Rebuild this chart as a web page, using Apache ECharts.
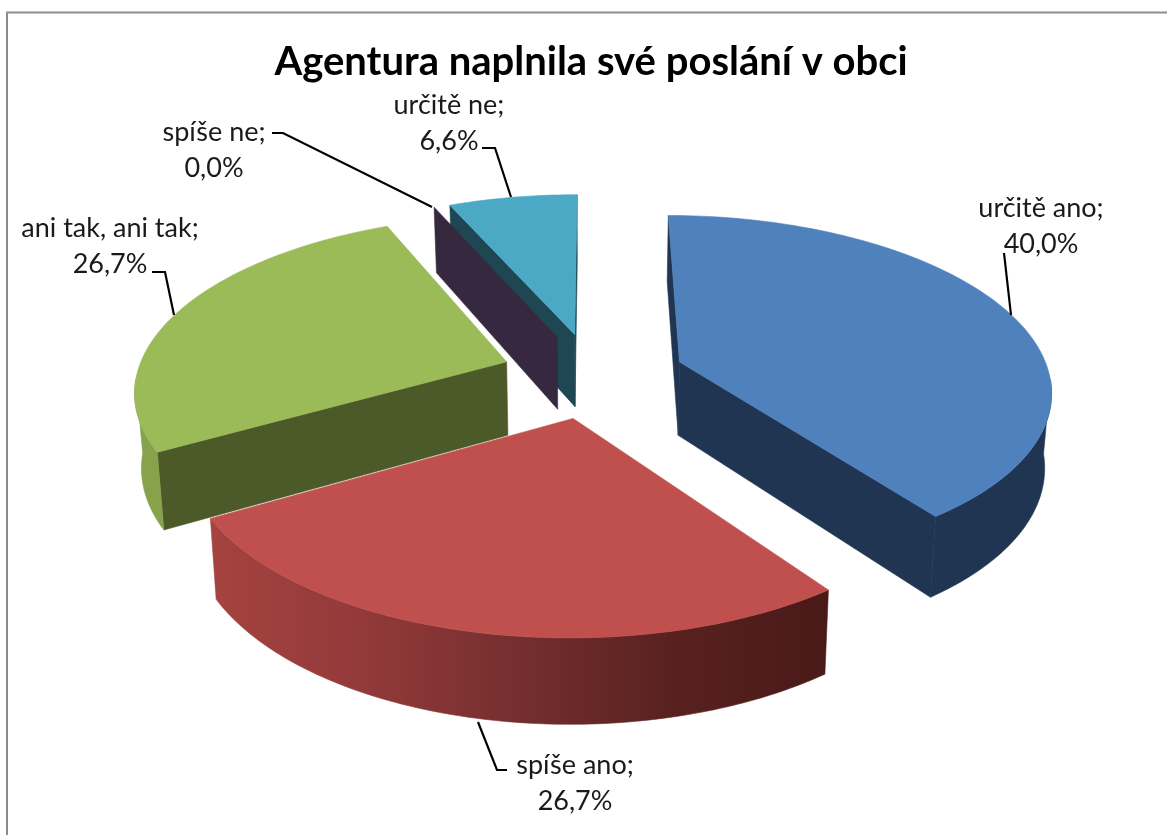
<!DOCTYPE html>
<html>
<head>
<meta charset="utf-8">
<title>Agentura naplnila své poslání v obci</title>
<style>
  html, body { margin: 0; padding: 0; background: #fff; }
  #chart { width: 1167px; height: 835px; }
</style>
<script src="https://cdn.jsdelivr.net/npm/echarts@6/dist/echarts.min.js"></script>
</head>
<body>
<div id="chart"></div>
<script>
const chartTitle = 'Agentura naplnila své poslání v obci'
const categories = ['určitě ano', 'spíše ano', 'ani tak, ani tak', 'spíše ne', 'určitě ne']
const shares = [40.0, 26.7, 26.7, 0.0, 6.6]

// colours per slice: top face, side walls, outer wall
const topColors = ['#4f81bd', '#c0504d', '#9bbb59', '#8064a2', '#4ba9c5']
const wallColors = ['#1f3552', '#4a1a18', '#4c5a29', '#35283f', '#1e4753']
const rimColors = ['#1f3552', null, '#86a34c', '#35283f', '#1e4753']

// painter's order, back to front
const drawOrder = [4, 3, 2, 0, 1]

// projection of the tilted pie
const cx = 593
const cy = 375
const radius = 370
const tilt = 0.465
const perspective = 0.15
const explode = 92
const depth = 74
const bottomShrink = 0.985

const fontFamily = 'Lato, "Open Sans", sans-serif'

function project(u, v) {
  const s = 1 / (1 - perspective * v / radius)
  return { x: cx + u * s, y: cy + tilt * v * s, s: s }
}

function lower(p) {
  return [cx + (p.x - cx) * bottomShrink, p.y + depth * Math.pow(p.s, 0.75)]
}

function renderSlice(i, api) {
  const before = shares.slice(0, i).reduce((a, b) => a + b, 0)
  const start = before / 100 * Math.PI * 2
  const end = (before + api.value(0)) / 100 * Math.PI * 2
  const mid = (start + end) / 2
  const ox = Math.sin(mid) * explode
  const oy = -Math.cos(mid) * explode

  const steps = Math.max(1, Math.ceil((end - start) / 0.02))
  const pts = []
  const frontPts = []
  for (let k = 0; k <= steps; k++) {
    const a = start + (end - start) * k / steps
    const p = project(ox + Math.sin(a) * radius, oy - Math.cos(a) * radius)
    pts.push(p)
    // the rim starts where the arc turns back, which perspective pushes a bit forward
    if (-Math.cos(a) >= 0.1) frontPts.push(p)
  }
  const apex = project(ox, oy)
  const first = pts[0]
  const last = pts[pts.length - 1]

  const xy = p => [p.x, p.y]
  const solid = (points, color) => ({
    type: 'polygon',
    shape: { points: points },
    style: { fill: color, stroke: color, lineWidth: 0.6 }
  })
  const wall = (a, b) => solid([xy(a), xy(b), lower(b), lower(a)], wallColors[i])

  const rimFill = rimColors[i] || new echarts.graphic.LinearGradient(215, 0, 825, 0, [
    { offset: 0, color: '#a4433f' },
    { offset: 0.25, color: '#92393a' },
    { offset: 0.5, color: '#752e2e' },
    { offset: 0.75, color: '#582120' },
    { offset: 1, color: '#4a1a18' }
  ], true)

  // a cut face shows only when its outside looks down the screen
  const children = []
  if (first.x < apex.x) children.push(wall(apex, first))
  if (last.x > apex.x) children.push(wall(apex, last))
  if (frontPts.length > 1) {
    children.push(solid(frontPts.map(xy).concat(frontPts.slice().reverse().map(lower)), rimFill))
  }
  if (end > start) {
    children.push(solid([xy(apex)].concat(pts.map(xy)), topColors[i]))
  }
  return { type: 'group', children: children }
}

function labelText(i) {
  return categories[i] + ';\n' + shares[i].toFixed(1).replace('.', ',') + '%'
}

// label centres and leader lines, same order as categories
const labelCentres = [[1041, 226], [575, 783], [110, 246], [214, 150], [449, 123]]
const leaders = [
  [[1004, 253], [1011, 315]],
  [[478, 722], [497, 770], [507, 770]],
  [[152, 272], [165, 272], [174, 315]],
  [[272, 133], [283, 133], [432, 207]],
  [[482, 148], [495, 148], [511, 197]]
]

const graphicItems = [
  {
    type: 'polyline',
    shape: { points: [[7, 835], [7, 12.5], [1167, 12.5]] },
    style: { stroke: '#8c8c8c', lineWidth: 2, fill: null }
  }
]
categories.forEach((name, i) => {
  graphicItems.push({
    type: 'text',
    x: labelCentres[i][0],
    y: labelCentres[i][1],
    style: {
      text: labelText(i),
      fill: '#1a1a1a',
      font: '27px ' + fontFamily,
      lineHeight: 36,
      align: 'center',
      verticalAlign: 'middle'
    }
  })
  graphicItems.push({
    type: 'polyline',
    z: 5,
    shape: { points: leaders[i] },
    style: { stroke: '#000', lineWidth: 2.2, fill: null }
  })
})

const chart = echarts.init(document.getElementById('chart'), null, { renderer: 'canvas' })
chart.setOption({
  animation: false,
  backgroundColor: '#fff',
  title: {
    text: chartTitle,
    left: 586,
    top: 37,
    textAlign: 'center',
    textStyle: { color: '#000', fontFamily: fontFamily, fontSize: 40, fontWeight: 'bold' }
  },
  graphic: graphicItems,
  series: drawOrder.map(i => ({
    type: 'custom',
    coordinateSystem: 'none',
    silent: true,
    z: 2,
    renderItem: (params, api) => renderSlice(i, api),
    data: [[shares[i]]]
  }))
})
</script>
</body>
</html>
